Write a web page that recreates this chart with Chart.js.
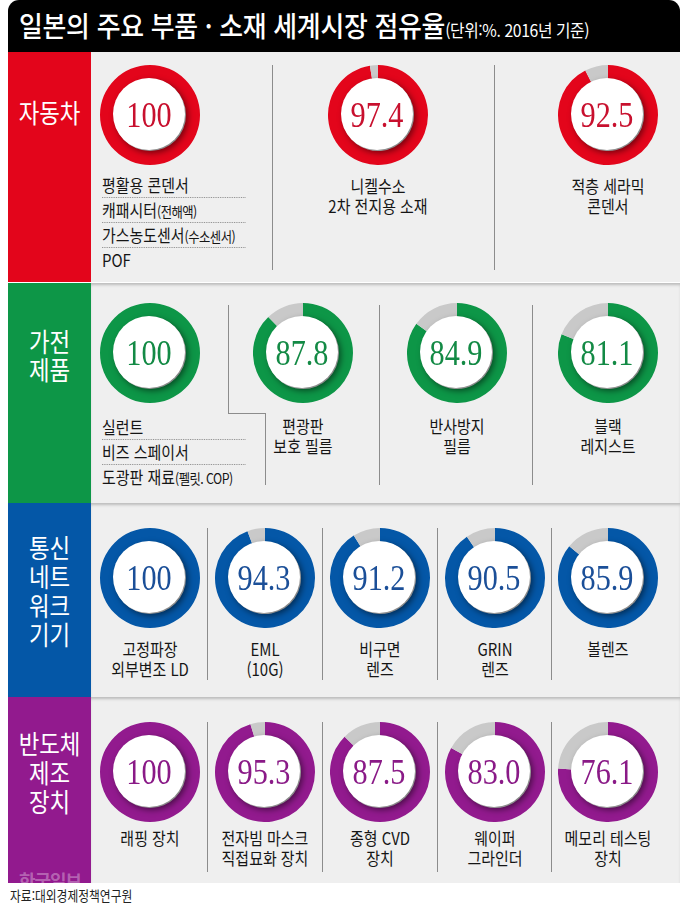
<!DOCTYPE html>
<html lang="ko">
<head>
<meta charset="utf-8">
<script src="https://cdn.jsdelivr.net/npm/chart.js@4.4.1/dist/chart.umd.min.js"></script>
<style>
body { margin:0; width:680px; height:904px; background:#fff; position:relative; overflow:hidden; font-family:"Noto Sans CJK KR", "Noto Sans", sans-serif; }
.abs { position:absolute; }
#head { left:8px; top:0; width:672px; height:52px; background:#000; border-radius:11px 11px 0 0; }
#title { left:19px; top:6px; color:#fff; font-size:28px; font-weight:500; line-height:38px; white-space:nowrap; transform:scaleX(0.925); transform-origin:0 50%; letter-spacing:-0.3px; }
#title small { font-size:17px; font-weight:400; letter-spacing:-0.4px; }
.bar { left:8px; width:83px; overflow:hidden; }
.content { left:91px; width:589px; background:#efefef; }
.content.lined { box-shadow: inset 0 3px 3px -1px rgba(0,0,0,0.22); }
.sector { left:8px; width:83px; color:#fff; font-size:26px; text-align:center; transform:scaleX(0.86); }
.item { width:160px; font-size:17px; line-height:20px; color:#151515; text-align:center; white-space:nowrap; transform:scaleX(0.88); }
.list { font-size:17px; color:#151515; transform:scaleX(0.88); transform-origin:0 0; white-space:nowrap; }
.list div { height:24px; line-height:24px; border-bottom:1px dotted #8a8a8a; }
.list div:last-child { border-bottom:none; }
.sm { font-size:14px; letter-spacing:-0.6px; }
.rule { background:#8c8c8c; }
.ring { width:100px; height:100px; }
#mark { left:4px; top:170px; width:76px; text-align:center; color:rgba(255,255,255,0.33); font-size:18px; font-weight:bold; letter-spacing:-1px; white-space:nowrap; }
#src { left:10px; top:885px; font-size:14px; line-height:20px; color:#222; transform:scaleX(0.84); transform-origin:0 50%; white-space:nowrap; }
</style>
</head>
<body>
<div id="head" class="abs"></div>
<div id="title" class="abs">일본의 주요 부품 · 소재 세계시장 점유율<small>(단위:%. 2016년 기준)</small></div>
<div id="src" class="abs">자료:대외경제정책연구원</div>
<script>
// 분야 이름
const sectors = [['자동차'], ['가전', '제품'], ['통신', '네트', '워크', '기기'], ['반도체', '제조', '장치']];

// 자동차
const carItems = [['평활용 콘덴서', '캐패시터(전해액)', '가스농도센서(수소센서)', 'POF'], ['니켈수소', '2차 전지용 소재'], ['적층 세라믹', '콘덴서']];
const carShare = [100, 97.4, 92.5];

// 가전제품
const homeItems = [['실런트', '비즈 스페이서', '도광판 재료(펠릿. COP)'], ['편광판', '보호 필름'], ['반사방지', '필름'], ['블랙', '레지스트']];
const homeShare = [100, 87.8, 84.9, 81.1];

// 통신네트워크기기
const netItems = [['고정파장', '외부변조 LD'], ['EML', '(10G)'], ['비구면', '렌즈'], ['GRIN', '렌즈'], ['볼렌즈']];
const netShare = [100, 94.3, 91.2, 90.5, 85.9];

// 반도체제조장치
const chipItems = [['래핑 장치'], ['전자빔 마스크', '직접묘화 장치'], ['종형 CVD', '장치'], ['웨이퍼', '그라인더'], ['메모리 테스팅', '장치']];
const chipShare = [100, 95.3, 87.5, 83.0, 76.1];

const groups = [
  { items: carItems, share: carShare },
  { items: homeItems, share: homeShare },
  { items: netItems, share: netShare },
  { items: chipItems, share: chipShare }
];

// layout only
const looks = [
  { top: 52, height: 230, color: '#e3051b', ink: '#c8102e', cx: [150, 378, 608], cy: 115,
    nameY: 112, textY: 186, list: { top: 173 },
    rules: [[272, 65, 272, 270], [494, 65, 494, 270]] },
  { top: 283, height: 220, color: '#0d9647', ink: '#138a45', cx: [150, 303, 457, 608], cy: 353,
    nameY: 341, textY: 426, list: { top: 415 },
    rules: [[228, 305, 228, 413], [228, 413, 265, 413], [265, 413, 265, 485], [379, 305, 379, 485], [532, 305, 532, 485]] },
  { top: 503, height: 194, color: '#0457a7', ink: '#1b4f98', cx: [150, 265, 380, 495, 608], cy: 578,
    nameY: 546, textY: 649,
    rules: [[207, 528, 207, 680], [322, 528, 322, 680], [437, 528, 437, 680], [551, 528, 551, 680]] },
  { top: 697, height: 186, color: '#921a8e', ink: '#8a1a87', cx: [150, 265, 380, 495, 608], cy: 772,
    nameY: 742, textY: 838,
    rules: [[207, 722, 207, 872], [322, 722, 322, 872], [437, 722, 437, 872], [551, 722, 551, 872]] }
];

function add(cls, css, html) {
  const d = document.createElement('div');
  d.className = 'abs ' + cls;
  Object.assign(d.style, css);
  if (html !== undefined) d.innerHTML = html;
  document.body.appendChild(d);
  return d;
}

function small(t) {
  return t.replace(/(\S)\((.+?)\)/, '$1<span class="sm">($2)</span>');
}

// white face with shadow + number in the middle of each ring
const faceplate = {
  id: 'faceplate',
  afterDatasetsDraw(chart, args, opts) {
    const arc = chart.getDatasetMeta(0).data[0];
    const ctx = chart.ctx;
    ctx.save();
    ctx.shadowColor = 'rgba(0,0,0,0.5)';
    ctx.shadowBlur = 6;
    ctx.shadowOffsetX = 3;
    ctx.shadowOffsetY = 3;
    ctx.beginPath();
    ctx.arc(arc.x - 1, arc.y - 1, arc.innerRadius, 0, Math.PI * 2);
    ctx.fillStyle = '#fff';
    ctx.fill();
    ctx.restore();

    const v = chart.data.datasets[0].data[0];
    ctx.save();
    ctx.translate(arc.x - 1, arc.y + 12);
    ctx.scale(0.84, 1);
    ctx.font = '36px "Liberation Serif", serif';
    ctx.fillStyle = opts.ink;
    ctx.textAlign = 'center';
    ctx.textBaseline = 'alphabetic';
    ctx.fillText(v === 100 ? '100' : v.toFixed(1), 0, 0);
    ctx.restore();
  }
};

groups.forEach(function (g, s) {
  const lk = looks[s];
  const bar = add('bar', { top: lk.top + 'px', height: lk.height + 'px', background: lk.color });
  add('content' + (s > 0 ? ' lined' : ''), { top: lk.top + 'px', height: lk.height + 'px' });

  const nm = sectors[s];
  const lh = nm.length > 2 ? 29 : 28;
  add('sector', { top: (lk.nameY - lh / 2) + 'px', lineHeight: lh + 'px' }, nm.join('<br>'));
  if (s === 3) {
    const m = document.createElement('div');
    m.id = 'mark';
    m.className = 'abs';
    m.textContent = '한국일보';
    bar.appendChild(m);
  }

  lk.rules.forEach(function (r) {
    add('rule', { left: r[0] + 'px', top: r[1] + 'px', width: Math.max(1, r[2] - r[0]) + 'px', height: Math.max(1, r[3] - r[1]) + 'px' });
  });

  g.share.forEach(function (v, i) {
    const cx = lk.cx[i];
    const box = add('ring', { left: (cx - 50) + 'px', top: (lk.cy - 50) + 'px' });
    const cv = document.createElement('canvas');
    cv.width = 100; cv.height = 100;
    box.appendChild(cv);
    new Chart(cv, {
      type: 'doughnut',
      data: {
        labels: ['점유율', '기타'],
        datasets: [{
          data: [v, 100 - v],
          backgroundColor: [lk.color, '#c9c9c9'],
          borderWidth: 0,
          hoverOffset: 0,
          offset: 0
        }]
      },
      options: {
        responsive: false,
        animation: false,
        cutout: '72%',
        events: [],
        layout: { padding: 0 },
        plugins: {
          legend: { display: false },
          tooltip: { enabled: false },
          faceplate: { ink: lk.ink }
        }
      },
      plugins: [faceplate]
    });

    const lines = g.items[i];
    if (i === 0 && lk.list) {
      add('list', { left: '102px', top: lk.list.top + 'px', width: '163px' },
        lines.map(function (t) { return '<div>' + small(t) + '</div>'; }).join(''));
    } else {
      add('item', { left: (cx - 80) + 'px', top: (lk.textY - 10) + 'px' }, lines.map(small).join('<br>'));
    }
  });
});
</script>
</body>
</html>
